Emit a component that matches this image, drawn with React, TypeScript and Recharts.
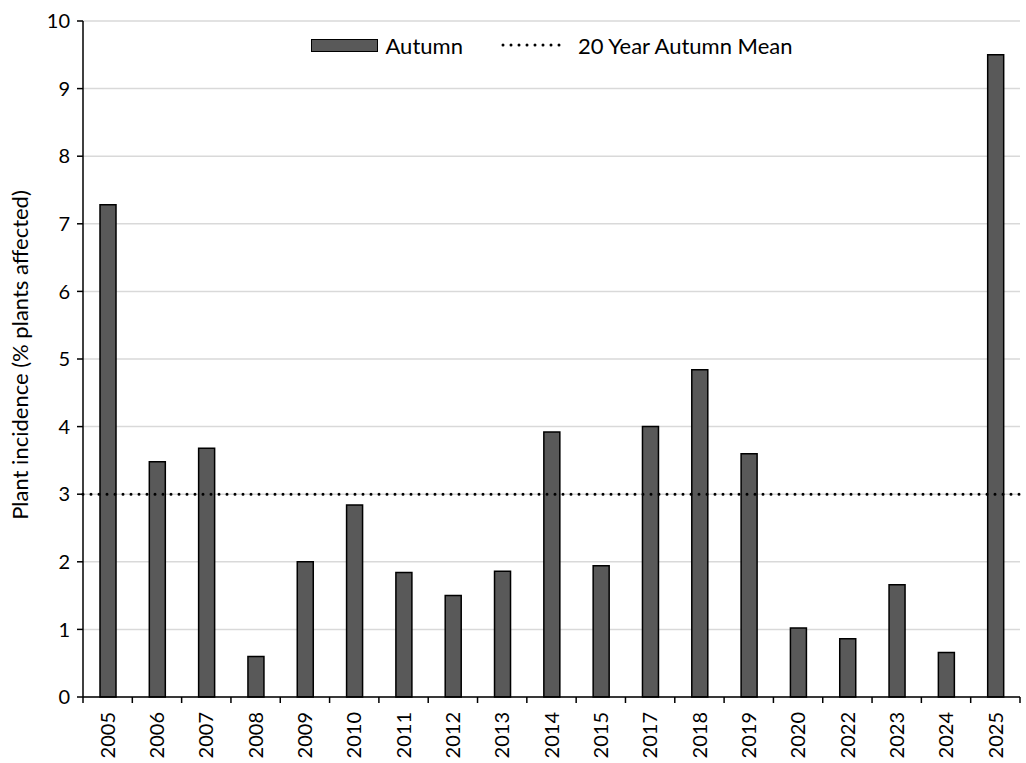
import React from "react";
import {
  BarChart,
  Bar,
  XAxis,
  YAxis,
  CartesianGrid,
  ReferenceLine,
  Legend,
} from "recharts";

// Years shown on the axis (2016 and 2021 are missing in the source)
const years = [
  "2005", "2006", "2007", "2008", "2009", "2010", "2011", "2012", "2013", "2014",
  "2015", "2017", "2018", "2019", "2020", "2022", "2023", "2024", "2025",
];

// Autumn plant incidence, % plants affected
const autumn = [
  7.28, 3.48, 3.68, 0.6, 2.0, 2.84, 1.84, 1.5, 1.86, 3.92,
  1.94, 4.0, 4.84, 3.6, 1.02, 0.86, 1.66, 0.66, 9.5,
];

const autumnMean = 3;
const yTicks = [0, 1, 2, 3, 4, 5, 6, 7, 8, 9, 10];

const data = years.map((year, i) => ({ year, autumn: autumn[i] }));

const W = 1026;
const H = 763;
const MARGIN = { top: 21, right: 6, left: 0, bottom: 0 };
const Y_AXIS_W = 83;
const PLOT_W = W - MARGIN.left - MARGIN.right - Y_AXIS_W;
const STEP = PLOT_W / years.length;

const FONT = "Lato, 'Liberation Sans', sans-serif";
const BAR_FILL = "#595959";

/* x tick: Excel-style tick marks between categories + rotated year */
function YearTick(props: any) {
  const { x, y, payload, index } = props;
  const left = x - STEP / 2;
  const right = x + STEP / 2;
  const ty = y + 15;
  return (
    <g>
      <line x1={left} y1={y} x2={left} y2={y + 6} stroke="#000" strokeWidth={1.5} />
      {index === years.length - 1 && (
        <line x1={right} y1={y} x2={right} y2={y + 6} stroke="#000" strokeWidth={1.5} />
      )}
      <text
        x={x}
        y={ty}
        transform={`rotate(-90, ${x}, ${ty})`}
        textAnchor="end"
        dy="0.36em"
        fontSize={20}
        fontFamily={FONT}
        fill="#000"
      >
        {payload.value}
      </text>
    </g>
  );
}

function ChartLegend() {
  return (
    <div
      style={{
        display: "flex",
        justifyContent: "center",
        alignItems: "center",
        height: 26,
        fontFamily: FONT,
        fontSize: 22,
        color: "#000",
      }}
    >
      <div
        style={{
          width: 65,
          height: 11,
          background: BAR_FILL,
          border: "1.5px solid #000",
          marginRight: 8,
        }}
      />
      <span style={{ marginRight: 38 }}>Autumn</span>
      <svg width={68} height={12} style={{ marginRight: 9 }}>
        <line
          x1={2}
          y1={6}
          x2={66}
          y2={6}
          stroke="#000"
          strokeWidth={3}
          strokeDasharray="0 8"
          strokeLinecap="round"
        />
      </svg>
      <span>20 Year Autumn Mean</span>
    </div>
  );
}

export default function App() {
  return (
    <div style={{ position: "absolute", left: 0, top: 0, width: W, height: H, background: "#fff" }}>
      <BarChart width={W} height={H} data={data} margin={MARGIN}>
        <CartesianGrid vertical={false} stroke="#d9d9d9" strokeWidth={1.5} />
        <YAxis
          width={Y_AXIS_W}
          domain={[0, 10]}
          ticks={yTicks}
          interval={0}
          tickSize={6}
          tickMargin={7}
          axisLine={{ stroke: "#000", strokeWidth: 1.5 }}
          tickLine={{ stroke: "#000", strokeWidth: 1.5 }}
          tick={{ fontSize: 20, fontFamily: FONT, fill: "#000" }}
          label={{
            content: (p: any) => {
              const cy = p.viewBox.y + p.viewBox.height / 2 - 4;
              return (
                <text
                  x={20}
                  y={cy}
                  transform={`rotate(-90, 20, ${cy})`}
                  textAnchor="middle"
                  dy="0.36em"
                  fontSize={22}
                  fontFamily={FONT}
                  fill="#000"
                >
                  Plant incidence (% plants affected)
                </text>
              );
            },
          }}
        />
        <XAxis
          dataKey="year"
          height={H - MARGIN.top - 676}
          interval={0}
          tickSize={0}
          tickMargin={0}
          tickLine={false}
          axisLine={{ stroke: "#000", strokeWidth: 1.5 }}
          tick={<YearTick />}
        />
        <Legend
          verticalAlign="middle"
          layout="horizontal"
          content={() => <ChartLegend />}
          wrapperStyle={{ top: 32, left: MARGIN.left + Y_AXIS_W, width: PLOT_W }}
        />
        <Bar
          dataKey="autumn"
          name="Autumn"
          fill={BAR_FILL}
          stroke="#000"
          strokeWidth={1.5}
          barSize={16}
          isAnimationActive={false}
        />
        <ReferenceLine
          y={autumnMean}
          stroke="#000"
          strokeWidth={3}
          strokeDasharray="0 8"
          strokeLinecap="round"
        />
      </BarChart>
    </div>
  );
}
